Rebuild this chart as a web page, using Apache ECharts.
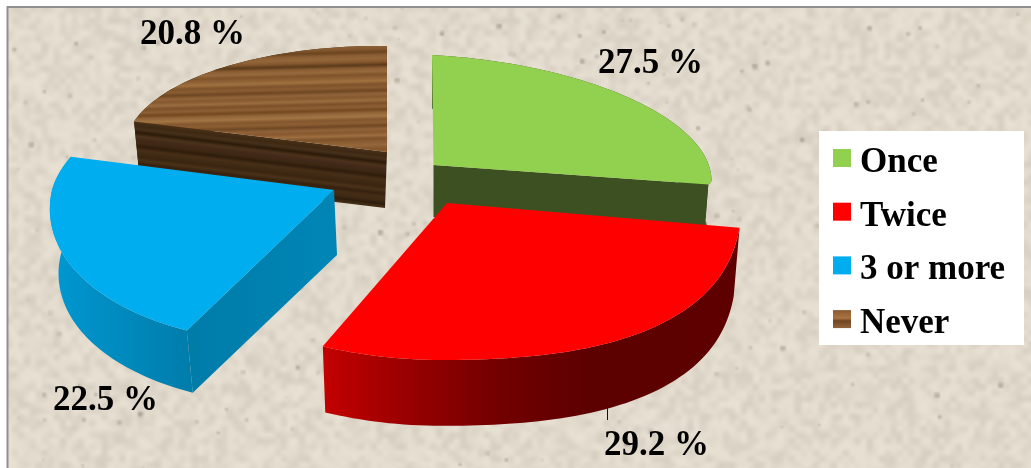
<!DOCTYPE html>
<html>
<head>
<meta charset="utf-8">
<style>html,body{margin:0;padding:0;background:#fff}#chart{width:1031px;height:468px}</style>
<script src="https://cdn.jsdelivr.net/npm/echarts@6/dist/echarts.min.js"></script>
</head>
<body>
<div id="chart"></div>
<script>
// Survey answers, in percent, clockwise from twelve o'clock
const categories = ['Once', 'Twice', '3 or more', 'Never'];
const shares = [27.5, 29.2, 22.5, 20.8];

// Wood grain stops for the "Never" slice
const grainTop = ['#7e5229','#8a5c32','#7a4f28','#8f6136','#84572e','#6b4520','#8c5e34','#93663a','#85582f','#5c3a1a','#8b5d33','#97693d','#80542b','#8e6035','#a0713f','#7f532b','#8a5c32','#6e4722','#90633a','#86592f','#9a6c3f','#7c5029','#8d5f35','#74491f','#93663b','#a27544','#84572e','#8c5e33','#6f4823','#90623a','#88592f','#9c6e40','#7e5229','#8b5d33','#94673c','#85572e'];
const grainWall = ['#4a3118','#3d2813','#46301a','#2c1a0a','#4b331b','#42291a','#3d2813','#2f1c0b','#472f17','#3f2a14','#3a2511','#4a3219','#35210f','#442d16','#3f2a14','#2f1d0c','#453016','#3f2a14'];

// Placement of each slice: screen-space scales of its tilted ellipse, wall and label
const sliceLayout = {
  'Once':      { cx: 433.5, cy: 165, rx: 278, ryBack: 110, ryFront: 30, skew: 1.5, tilt: 15, fuller: 0, depth: 52, wallDx: 0, inset: .985, label: [650.5, 64], radialWall: 'end' },
  'Twice':     { cx: 447, cy: 203, rx: 295, ryBack: 110, ryFront: 157, skew: -4, tilt: 0, fuller: .065, depth: 69, wallDx: 0, inset: .98, label: [656.5, 445.5], radialWall: null, leader: [607.5, 403, 420] },
  '3 or more': { cx: 334, cy: 190, rx: 282, ryBack: 127, ryFront: 154, skew: -35, tilt: 0, fuller: 0, depth: 65, wallDx: 3, inset: .98, label: [105.5, 401], radialWall: 'start' },
  'Never':     { cx: 387, cy: 152, rx: 262, ryBack: 106, ryFront: 116, skew: 0, tilt: 3, fuller: 0, depth: 56, wallDx: -2, inset: .97, label: [192.5, 35], radialWall: 'start' }
};

const stopsOf = (list) => list.map((c, i) => ({ offset: i / (list.length - 1), color: c }));
const sliceColors = {
  'Once': { top: '#92d050', outer: '#3d5022', radial: '#3d5022' },
  'Twice': {
    top: '#ff0000',
    outer: { type: 'linear', x: 322, y: 0, x2: 740, y2: 0, global: true,
      colorStops: [{offset:0,color:'#c40000'},{offset:.2,color:'#9a0000'},{offset:.42,color:'#730000'},{offset:.65,color:'#5c0000'},{offset:1,color:'#5e0000'}] },
    radial: '#5e0000'
  },
  '3 or more': {
    top: '#00adef',
    outer: { type: 'linear', x: 50, y: 0, x2: 200, y2: 0, global: true,
      colorStops: [{offset:0,color:'#0098d2'},{offset:1,color:'#007ba8'}] },
    radial: { type: 'linear', x: 193, y: 0, x2: 335, y2: 0, global: true,
      colorStops: [{offset:0,color:'#007ca9'},{offset:1,color:'#0086b6'}] }
  },
  'Never': {
    top: { type: 'linear', x: 0, y: 46, x2: 3, y2: 158, global: true, colorStops: stopsOf(grainTop) },
    outer: '#3f2a14',
    radial: { type: 'linear', x: 384, y: 152, x2: 377, y2: 210, global: true, colorStops: stopsOf(grainWall) }
  }
};

// Mottled stone-paper fill for the plot backdrop
function hash(x, y, s) {
  const n = Math.sin(x * 127.1 + y * 311.7 + s * 74.7) * 43758.5453;
  return n - Math.floor(n);
}
function paperTile() {
  const W = 1040, H = 480;
  const c = document.createElement('canvas');
  c.width = W; c.height = H;
  const g = c.getContext('2d');
  g.fillStyle = '#e2dbcd';
  g.fillRect(0, 0, W, H);

  // coarse mottling: a small noise field scaled up with smoothing
  const n = document.createElement('canvas');
  n.width = Math.ceil(W / 6); n.height = Math.ceil(H / 6);
  const ng = n.getContext('2d');
  for (let y = 0; y < n.height; y++) {
    for (let x = 0; x < n.width; x++) {
      const d = (hash(x, y, 1) - .5) * 11;
      ng.fillStyle = `rgba(${d > 0 ? '250,245,235' : '170,160,145'},${Math.abs(d) / 24})`;
      ng.fillRect(x, y, 1, 1);
    }
  }
  g.imageSmoothingEnabled = true;
  g.imageSmoothingQuality = 'high';
  g.drawImage(n, 0, 0, W, H);

  // small soft specks
  const s = document.createElement('canvas');
  s.width = Math.ceil(W / 2); s.height = Math.ceil(H / 2);
  const sg = s.getContext('2d');
  for (let i = 0; i < 240; i++) {
    const x = hash(i, 3, 2) * s.width, y = hash(i, 7, 5) * s.height, r = .5 + hash(i, 9, 4) * .8;
    sg.fillStyle = `rgba(125,115,100,${.12 + hash(i, 2, 8) * .3})`;
    sg.fillRect(x, y, r * 2, r * 2);
  }
  g.drawImage(s, 0, 0, W, H);
  return c;
}

function topPoint(L, deg) {
  const a = deg * Math.PI / 180;
  const swell = deg > 90 && deg < 180 ? 1 + L.fuller * Math.pow(Math.sin(2 * a), 2) : 1;
  const u = Math.sin(a) * swell, v = -Math.cos(a) * swell;
  return [L.cx + L.rx * u + L.skew * v, L.cy + (v < 0 ? L.ryBack : L.ryFront) * v + L.tilt * u];
}
function basePoint(L, deg) {
  const p = topPoint(L, deg);
  return [L.cx + L.wallDx + (p[0] - L.cx) * L.inset, L.cy + L.depth + (p[1] - L.cy) * L.inset];
}
function arc(fn, L, from, to) {
  const pts = [], n = Math.max(2, Math.ceil((to - from) / 1.5));
  for (let i = 0; i <= n; i++) pts.push(fn(L, from + (to - from) * i / n));
  return pts;
}

// Start angle of every slice comes from the running total of the shares
const total = shares.reduce((a, b) => a + b, 0);
let running = 0;
const sweep = shares.map((v) => {
  const s = [running / total * 360, (running + v) / total * 360];
  running += v;
  return s;
});

function renderSlice(name) {
  return function (params, api) {
    const i = categories.indexOf(name), L = sliceLayout[name], C = sliceColors[name];
    const value = api.value(0), from = sweep[i][0], to = sweep[i][1];
    const apex = [L.cx, L.cy], apexBase = [L.cx + L.wallDx, L.cy + L.depth];
    const kids = [];
    const poly = (points, fill) => kids.push({ type: 'polygon', silent: true, shape: { points }, style: { fill } });
    if (L.leader) {
      kids.push({ type: 'line', silent: true, shape: { x1: L.leader[0], y1: L.leader[1], x2: L.leader[0], y2: L.leader[2] }, style: { stroke: '#111', lineWidth: 1 } });
    }
    poly(arc(topPoint, L, from, to).concat(arc(basePoint, L, from, to).reverse()), C.outer);
    if (L.radialWall) {
      const edge = L.radialWall === 'start' ? from : to;
      poly([apex, topPoint(L, edge), basePoint(L, edge), apexBase], C.radial);
    }
    poly([apex].concat(arc(topPoint, L, from, to)), C.top);
    kids.push({ type: 'text', silent: true, style: {
      text: value + ' %', x: L.label[0], y: L.label[1], textAlign: 'center', textVerticalAlign: 'middle',
      font: "bold 35px 'Liberation Serif'", fill: '#000' } });
    return { type: 'group', children: kids };
  };
}

// Painter's order: the far slices go down first
const paintOrder = { 'Never': 2, 'Once': 3, '3 or more': 4, 'Twice': 5 };
const chart = echarts.init(document.getElementById('chart'), null, { renderer: 'canvas' });
chart.setOption({
  animation: false,
  backgroundColor: '#ffffff',
  graphic: [
    { type: 'rect', z: 0, silent: true, shape: { x: 7.5, y: 7, width: 1030, height: 470 },
      style: { fill: { image: paperTile(), repeat: 'repeat' }, stroke: '#8f8f8f', lineWidth: 2 } },
    // white panel behind the legend
    { type: 'rect', z: 1, silent: true, shape: { x: 819, y: 131, width: 205, height: 214 }, style: { fill: '#ffffff' } }
  ],
  legend: {
    left: 833, top: 145.5,
    orient: 'vertical',
    selectedMode: false,
    icon: 'rect',
    itemWidth: 18, itemHeight: 18, itemGap: 18.7,
    padding: 0,
    formatter: '{entry|{name}}',
    textStyle: {
      rich: { entry: { fontFamily: 'Liberation Serif', fontWeight: 'bold', fontSize: 35, lineHeight: 45, verticalAlign: 'bottom', padding: [0, 0, 0, 4], color: '#000' } }
    },
    data: categories.map((c) => c === 'Never'
      ? { name: c, itemStyle: { color: { type: 'linear', x: 0, y: 0, x2: 0, y2: 1, colorStops: [{offset:0,color:'#8a5a30'},{offset:.45,color:'#a87442'},{offset:.6,color:'#6e4521'},{offset:1,color:'#93643a'}] } } }
      : { name: c })
  },
  series: categories.map((name, i) => ({
    type: 'custom',
    name,
    coordinateSystem: 'none',
    z: paintOrder[name],
    itemStyle: { color: typeof sliceColors[name].top === 'string' ? sliceColors[name].top : '#8a5a30' },
    renderItem: renderSlice(name),
    data: [[shares[i]]]
  }))
});
</script>
</body>
</html>
